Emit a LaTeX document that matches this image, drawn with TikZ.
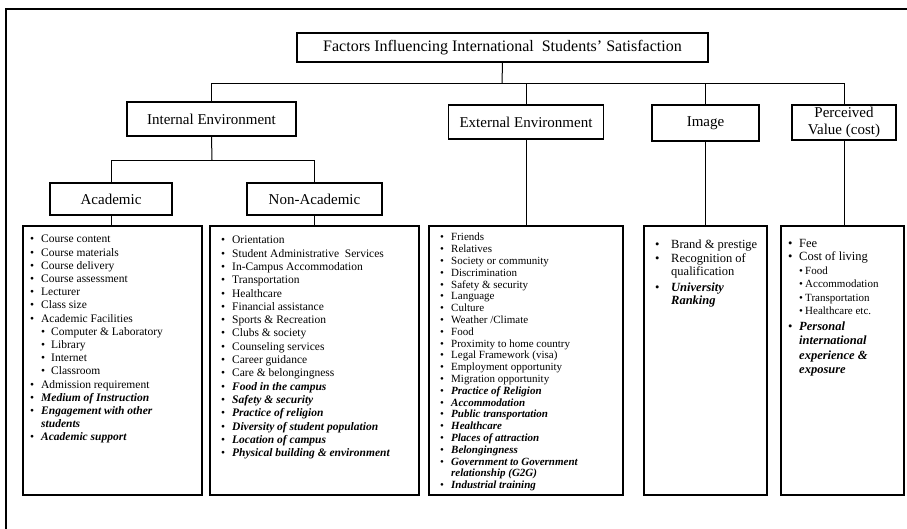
\documentclass[tikz,border=0pt]{standalone}
\usepackage{fontspec}
\setmainfont{Liberation Serif}
\newlength\bw
\newcommand\bul[1][11pt]{\makebox[#1][l]{\textbullet}}
\newcommand\bi[1]{\textbf{\textit{#1}}}
\begin{document}
\begin{tikzpicture}[x=1pt,y=-1pt,
  box/.style={draw, line width=1.4pt, inner sep=0pt, align=center,
    font=\fontsize{15}{17}\selectfont},
  lbox/.style={draw, line width=1.4pt, inner sep=0pt, minimum height=269pt},
  conn/.style={line width=0.7pt},
  lst/.style={anchor=north west, inner sep=0pt, align=left}]
\useasboundingbox (0,0) rectangle (907,529);
\begin{scope}
\clip (0,0) rectangle (907,529);
\draw[line width=2.2pt] (6,9) rectangle (940,560);
\end{scope}

% level 0
\node[box, minimum width=411pt, minimum height=29pt, font=\fontsize{16}{18}\selectfont] (title) at (502.5,47.5)
  {Factors Influencing International\ \ Students’ Satisfaction};
% level 1
\node[box, minimum width=169pt, minimum height=34pt] (intenv) at (211.5,119) {Internal Environment};
\node[box, minimum width=155pt, minimum height=34pt] (extenv) at (526,122) {External Environment};
\node[box, minimum width=107pt, minimum height=36pt] (img) at (705.5,123) {Image};
\node[box, minimum width=104pt, minimum height=35pt] (perc) at (844,122.5) {Perceived\\Value (cost)};
% level 2
\node[box, minimum width=122pt, minimum height=32pt] (acad) at (111,199) {Academic};
\node[box, minimum width=135pt, minimum height=32pt] (nonac) at (314.5,199) {Non-Academic};
% list boxes
\node[lbox, minimum width=179pt] (acadlist) at (112.5,360.5) {};
\node[lbox, minimum width=209pt] (nonaclist) at (314.5,360.5) {};
\node[lbox, minimum width=194pt] (extlist) at (526,360.5) {};
\node[lbox, minimum width=123pt] (imglist) at (705.5,360.5) {};
\node[lbox, minimum width=123pt] (perclist) at (842.5,360.5) {};

% connectors
\coordinate (b1) at (502,83);
\coordinate (b2) at (212,160);
\draw[conn, line width=1pt] (title.south) -- (b1);
\draw[conn] (intenv.north) -- (intenv.north |- b1) -- (perc.north |- b1) -- (perc.north);
\draw[conn] (extenv.north) -- (extenv.north |- b1);
\draw[conn] (img.north) -- (img.north |- b1);
\draw[conn, line width=1pt] (intenv.south) -- (b2);
\draw[conn] (acad.north) -- (acad.north |- b2) -- (nonac.north |- b2) -- (nonac.north);
\draw[conn] (acad.south) -- (acad.south |- acadlist.north);
\draw[conn] (nonac.south) -- (nonac.south |- nonaclist.north);
\draw[conn] (extenv.south) -- (extenv.south |- extlist.north);
\draw[conn] (img.south) -- (img.south |- imglist.north);
\draw[conn] (perc.south) -- (perc.south |- perclist.north);

% list texts
\node[lst, font=\fontsize{11.5}{13.2}\selectfont] (acadtxt) at (30,235) {%
\bul Course content\\
\bul Course materials\\
\bul Course delivery\\
\bul Course assessment\\
\bul Lecturer\\
\bul Class size\\
\bul Academic Facilities\\
\hspace*{11pt}\bul[10pt]Computer \& Laboratory\\
\hspace*{11pt}\bul[10pt]Library\\
\hspace*{11pt}\bul[10pt]Internet\\
\hspace*{11pt}\bul[10pt]Classroom\\
\bul Admission requirement\\
\bul \bi{Medium of Instruction}\\
\bul \bi{Engagement with other}\\
\hspace*{11pt}\bi{students}\\
\bul \bi{Academic support}};

\node[lst, font=\fontsize{11.5}{13.3}\selectfont] (nonactxt) at (221,236) {%
\bul Orientation\\
\bul Student Administrative\ \ Services\\
\bul In-Campus Accommodation\\
\bul Transportation\\
\bul Healthcare\\
\bul Financial assistance\\
\bul Sports \& Recreation\\
\bul Clubs \& society\\
\bul Counseling services\\
\bul Career guidance\\
\bul Care \& belongingness\\
\bul \bi{Food in the campus}\\
\bul \bi{Safety \& security}\\
\bul \bi{Practice of religion}\\
\bul \bi{Diversity of student population}\\
\bul \bi{Location of campus}\\
\bul \bi{Physical building \& environment}};

\node[lst, font=\fontsize{11}{11.8}\selectfont] (exttxt) at (440,233) {%
\bul Friends\\
\bul Relatives\\
\bul Society or community\\
\bul Discrimination\\
\bul Safety \& security\\
\bul Language\\
\bul Culture\\
\bul Weather /Climate\\
\bul Food\\
\bul Proximity to home country\\
\bul Legal Framework (visa)\\
\bul Employment opportunity\\
\bul Migration opportunity\\
\bul \bi{Practice of Religion}\\
\bul \bi{Accommodation}\\
\bul \bi{Public transportation}\\
\bul \bi{Healthcare}\\
\bul \bi{Places of attraction}\\
\bul \bi{Belongingness}\\
\bul \bi{Government to Government}\\
\hspace*{11pt}\bi{relationship (G2G)}\\
\bul \bi{Industrial training}};

\node[lst, font=\fontsize{12.5}{13.5}\selectfont] (imgtxt) at (655,240) {%
\bul[16pt]Brand \& prestige\\
\bul[16pt]Recognition of\\
\hspace*{16pt}qualification\\[2pt]
\bul[16pt]\bi{University}\\
\hspace*{16pt}\bi{Ranking}};

\node[lst, font=\fontsize{12.5}{13.5}\selectfont] (perctxt) at (788,239) {%
\bul Fee\\
\bul Cost of living\\
\hspace*{11pt}{\fontsize{11}{12}\selectfont\bul[6pt]Food}\\
\hspace*{11pt}{\fontsize{11}{12}\selectfont\bul[6pt]Accommodation}\\
\hspace*{11pt}{\fontsize{11}{12}\selectfont\bul[6pt]Transportation}\\
\hspace*{11pt}{\fontsize{11}{12}\selectfont\bul[6pt]Healthcare etc.}\\[2pt]
\bul \bi{Personal}\\[1pt]
\hspace*{11pt}\bi{international}\\[1pt]
\hspace*{11pt}\bi{experience \&}\\[1pt]
\hspace*{11pt}\bi{exposure}};
\end{tikzpicture}
\end{document}
